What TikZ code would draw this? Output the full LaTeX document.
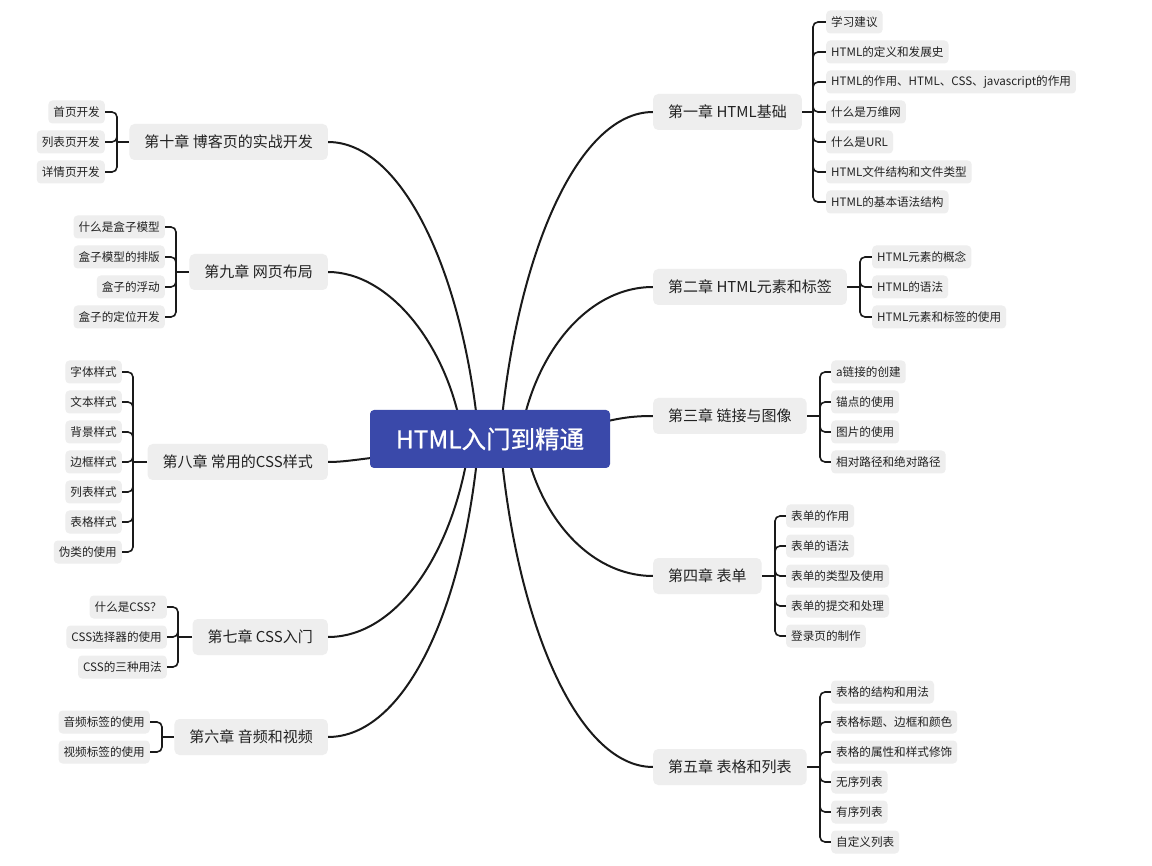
\documentclass[tikz,border=0pt]{standalone}
\usepackage{fontspec}
\setmainfont{Noto Sans CJK SC}
\newfontfamily\rootfont[FakeBold=0.8]{Noto Sans CJK SC}
\usetikzlibrary{backgrounds}
\definecolor{rootblue}{RGB}{58,73,170}
\definecolor{boxgray}{RGB}{238,238,238}
\definecolor{txt}{RGB}{34,34,34}
\definecolor{linec}{RGB}{26,26,26}
\tikzset{
  rootbox/.style={fill=rootblue, rounded corners=4pt, text=white, font=\rootfont\fontsize{24.5}{28}\selectfont, minimum width=240pt, minimum height=58pt, inner sep=0pt},
  chapbox/.style={fill=boxgray, rounded corners=5pt, text=txt, font=\fontsize{15}{17}\selectfont, inner xsep=15pt, inner ysep=0pt, minimum height=36pt},
  leafbox/.style={fill=boxgray, rounded corners=4pt, text=txt, font=\fontsize{11.6}{13}\selectfont, inner xsep=5pt, inner ysep=0pt, minimum height=23pt},
  mainline/.style={line width=2pt, draw=linec},
  subline/.style={line width=1.6pt, draw=linec, rounded corners=5pt},
}
\begin{document}
\begin{tikzpicture}[x=1pt,y=-1pt]
\useasboundingbox (0,0) rectangle (1152,866);

% root
\node[rootbox] (root) at (490,439) {HTML入门到精通};

% chapters right
\node[chapbox, anchor=west] (c1) at (653,112) {第一章 HTML基础};
\node[chapbox, anchor=west] (c2) at (653,287) {第二章 HTML元素和标签};
\node[chapbox, anchor=west] (c3) at (653,416) {第三章 链接与图像};
\node[chapbox, anchor=west] (c4) at (653,576) {第四章 表单};
\node[chapbox, anchor=west] (c5) at (653,767) {第五章 表格和列表};
% chapters left
\node[chapbox, anchor=east] (c10) at (328,142) {第十章 博客页的实战开发};
\node[chapbox, anchor=east] (c9) at (328,272) {第九章 网页布局};
\node[chapbox, anchor=east] (c8) at (328,462) {第八章 常用的CSS样式};
\node[chapbox, anchor=east] (c7) at (328,637) {第七章 CSS入门};
\node[chapbox, anchor=east] (c6) at (328,737) {第六章 音频和视频};

% leaves ch1
\node[leafbox, anchor=west] (l1a) at (826,22) {学习建议};
\node[leafbox, anchor=west] (l1b) at (826,52) {HTML的定义和发展史};
\node[leafbox, anchor=west] (l1c) at (826,82) {HTML的作用、HTML、CSS、javascript的作用};
\node[leafbox, anchor=west] (l1d) at (826,112) {什么是万维网};
\node[leafbox, anchor=west] (l1e) at (826,142) {什么是URL};
\node[leafbox, anchor=west] (l1f) at (826,172) {HTML文件结构和文件类型};
\node[leafbox, anchor=west] (l1g) at (826,202) {HTML的基本语法结构};
% ch2
\node[leafbox, anchor=west] (l2a) at (872,257) {HTML元素的概念};
\node[leafbox, anchor=west] (l2b) at (872,287) {HTML的语法};
\node[leafbox, anchor=west] (l2c) at (872,317) {HTML元素和标签的使用};
% ch3
\node[leafbox, anchor=west] (l3a) at (831,372) {a链接的创建};
\node[leafbox, anchor=west] (l3b) at (831,402) {锚点的使用};
\node[leafbox, anchor=west] (l3c) at (831,432) {图片的使用};
\node[leafbox, anchor=west] (l3d) at (831,462) {相对路径和绝对路径};
% ch4
\node[leafbox, anchor=west] (l4a) at (786,516) {表单的作用};
\node[leafbox, anchor=west] (l4b) at (786,546) {表单的语法};
\node[leafbox, anchor=west] (l4c) at (786,576) {表单的类型及使用};
\node[leafbox, anchor=west] (l4d) at (786,606) {表单的提交和处理};
\node[leafbox, anchor=west] (l4e) at (786,636) {登录页的制作};
% ch5
\node[leafbox, anchor=west] (l5a) at (831,692) {表格的结构和用法};
\node[leafbox, anchor=west] (l5b) at (831,722) {表格标题、边框和颜色};
\node[leafbox, anchor=west] (l5c) at (831,752) {表格的属性和样式修饰};
\node[leafbox, anchor=west] (l5d) at (831,782) {无序列表};
\node[leafbox, anchor=west] (l5e) at (831,812) {有序列表};
\node[leafbox, anchor=west] (l5f) at (831,842) {自定义列表};
% ch10
\node[leafbox, anchor=east] (l10a) at (105,112) {首页开发};
\node[leafbox, anchor=east] (l10b) at (105,142) {列表页开发};
\node[leafbox, anchor=east] (l10c) at (105,172) {详情页开发};
% ch9
\node[leafbox, anchor=east] (l9a) at (165,227) {什么是盒子模型};
\node[leafbox, anchor=east] (l9b) at (165,257) {盒子模型的排版};
\node[leafbox, anchor=east] (l9c) at (165,287) {盒子的浮动};
\node[leafbox, anchor=east] (l9d) at (165,317) {盒子的定位开发};
% ch8
\node[leafbox, anchor=east] (l8a) at (122,372) {字体样式};
\node[leafbox, anchor=east] (l8b) at (122,402) {文本样式};
\node[leafbox, anchor=east] (l8c) at (122,432) {背景样式};
\node[leafbox, anchor=east] (l8d) at (122,462) {边框样式};
\node[leafbox, anchor=east] (l8e) at (122,492) {列表样式};
\node[leafbox, anchor=east] (l8f) at (122,522) {表格样式};
\node[leafbox, anchor=east] (l8g) at (122,552) {伪类的使用};
% ch7
\node[leafbox, anchor=east] (l7a) at (167,607) {什么是CSS？};
\node[leafbox, anchor=east] (l7b) at (167,637) {CSS选择器的使用};
\node[leafbox, anchor=east] (l7c) at (167,667) {CSS的三种用法};
% ch6
\node[leafbox, anchor=east] (l6a) at (150,722) {音频标签的使用};
\node[leafbox, anchor=east] (l6b) at (150,752) {视频标签的使用};

\begin{scope}[on background layer]
\fill[white] (0,0) rectangle (1152,866);
% main curves
\coordinate (s1) at (500,439);
\coordinate (s2) at (520,439);
\coordinate (s3) at (592,425);
\coordinate (s4) at (524,439);
\coordinate (s5) at (500,439);
\coordinate (s10) at (479,439);
\coordinate (s9) at (463,439);
\coordinate (s8) at (388,456);
\coordinate (s7) at (470,439);
\coordinate (s6) at (479,439);
\draw[mainline] (s1) .. controls (515,259) and (576.5,112) .. (c1.west);
\draw[mainline] (s2) .. controls (533,355) and (586.5,287) .. (c2.west);
\draw[mainline] (s3) .. controls (618,418) and (632,416) .. (c3.west);
\draw[mainline] (s4) .. controls (537,514) and (588.5,576) .. (c4.west);
\draw[mainline] (s5) .. controls (515,619) and (576.5,767) .. (c5.west);
\draw[mainline] (s10) .. controls (464,276) and (403.5,142) .. (c10.east);
\draw[mainline] (s9) .. controls (449.5,347) and (390,272) .. (c9.east);
\draw[mainline] (s8) .. controls (360,459) and (345,462) .. (c8.east);
\draw[mainline] (s7) .. controls (456,548) and (399,637) .. (c7.east);
\draw[mainline] (s6) .. controls (464,613) and (403.5,737) .. (c6.east);

% brackets right
\coordinate (b1) at (813,112);
\coordinate (b2) at (860,287);
\coordinate (b3) at (820,416);
\coordinate (b4) at (775,576);
\coordinate (b5) at (820,767);
\draw[subline] (c1.east) -- (b1);
\foreach \n in {l1a,l1b,l1c,l1d,l1e,l1f,l1g} \draw[subline] (b1) |- (\n.west);
\draw[subline] (c2.east) -- (b2);
\foreach \n in {l2a,l2b,l2c} \draw[subline] (b2) |- (\n.west);
\draw[subline] (c3.east) -- (b3);
\foreach \n in {l3a,l3b,l3c,l3d} \draw[subline] (b3) |- (\n.west);
\draw[subline] (c4.east) -- (b4);
\foreach \n in {l4a,l4b,l4c,l4d,l4e} \draw[subline] (b4) |- (\n.west);
\draw[subline] (c5.east) -- (b5);
\foreach \n in {l5a,l5b,l5c,l5d,l5e,l5f} \draw[subline] (b5) |- (\n.west);
% brackets left
\coordinate (b10) at (117,142);
\coordinate (b9) at (176,272);
\coordinate (b8) at (133,462);
\coordinate (b7) at (178,637);
\coordinate (b6) at (162,737);
\draw[subline] (c10.west) -- (b10);
\foreach \n in {l10a,l10b,l10c} \draw[subline] (b10) |- (\n.east);
\draw[subline] (c9.west) -- (b9);
\foreach \n in {l9a,l9b,l9c,l9d} \draw[subline] (b9) |- (\n.east);
\draw[subline] (c8.west) -- (b8);
\foreach \n in {l8a,l8b,l8c,l8d,l8e,l8f,l8g} \draw[subline] (b8) |- (\n.east);
\draw[subline] (c7.west) -- (b7);
\foreach \n in {l7a,l7b,l7c} \draw[subline] (b7) |- (\n.east);
\draw[subline] (c6.west) -- (b6);
\foreach \n in {l6a,l6b} \draw[subline] (b6) |- (\n.east);
\end{scope}
\end{tikzpicture}
\end{document}
